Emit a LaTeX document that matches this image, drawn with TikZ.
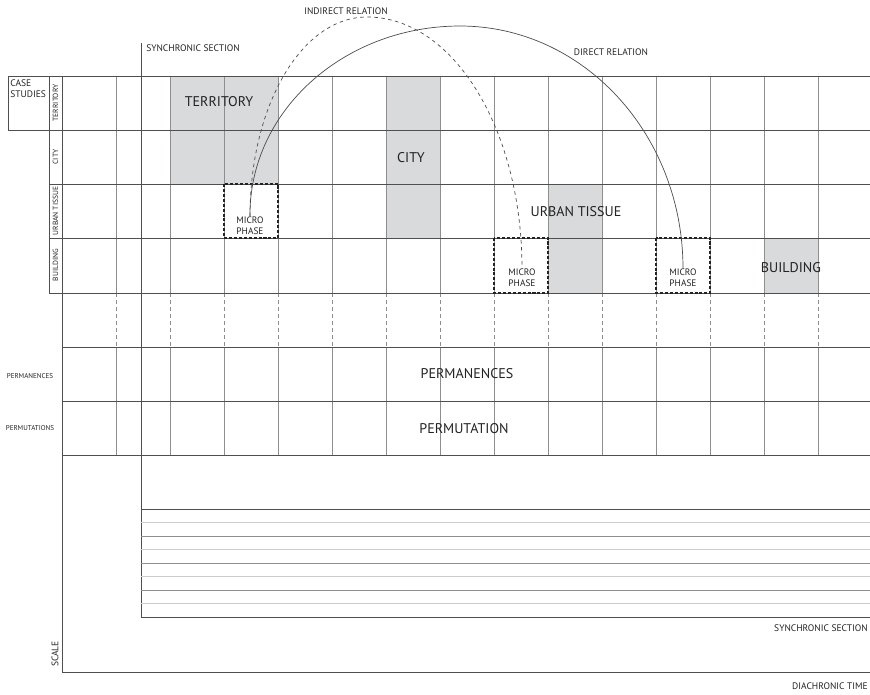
\documentclass[tikz,border=0pt]{standalone}
\usepackage{fontspec}
\setmainfont{PT Sans}
\usetikzlibrary{calc}
\definecolor{cellgray}{HTML}{D9DADB}
\definecolor{colline}{HTML}{8E8E8E}
\definecolor{rowline}{HTML}{4F4F4F}
\definecolor{inkgray}{HTML}{232323}

\begin{document}
\begin{tikzpicture}[x=0.03cm, y=-0.03cm, line width=0.6pt,
    bigtxt/.style={font=\fontsize{12}{13}\selectfont, text=inkgray},
    smalltxt/.style={font=\fontsize{8.1}{9.4}\selectfont, text=inkgray},
    tinytxt/.style={font=\fontsize{6}{7}\selectfont, text=inkgray},
    sidetxt/.style={font=\fontsize{6.4}{7}\selectfont, text=inkgray, rotate=90},
    microtxt/.style={font=\fontsize{8}{9.6}\selectfont, text=inkgray, align=center, inner sep=0pt},
    microbox/.style={draw=inkgray, line width=1.2pt, dash pattern=on 2.6pt off 1.6pt},
    relline/.style={draw=black!70, line width=0.6pt}]
    \useasboundingbox (0,0) rectangle (870,694);

    % shaded scales
    \fill[cellgray] (170,76) rectangle (278,184);
    \fill[cellgray] (386,76) rectangle (440,238);
    \fill[cellgray] (548,184) rectangle (602,293);
    \fill[cellgray] (764,238) rectangle (818,293);

    % columns
    \foreach \x in {116,170,...,818} {
        \draw[colline] (\x,76) -- (\x,293);
        \draw[colline, dash pattern=on 3pt off 3pt] (\x,293) -- (\x,347);
        \draw[colline] (\x,347) -- (\x,455);
    }
    % rows
    \foreach \y in {76,130,184,238,293,347,401,455}
        \draw[rowline] (62,\y) -- (870,\y);

    % case studies header and scale column
    \draw[rowline] (8,76) rectangle (49,130);
    \draw[rowline] (49,76) rectangle (62,293);
    \foreach \y in {130,184,238}
        \draw[rowline] (49,\y) -- (62,\y);
    \draw[rowline] (62,76) -- (62,672) -- (870,672);
    \draw[rowline, line width=0.8pt] (141,43) -- (141,617);

    % synchronic section strips
    \draw[rowline, line width=0.8pt] (141,509) -- (870,509);
    \foreach \y in {536,563,590}
        \draw[colline] (141,\y) -- (870,\y);
    \foreach \y in {522.5,549.5,576.5,603.5}
        \draw[black!20, line width=0.9pt] (141,\y) -- (870,\y);
    \draw[rowline, line width=0.8pt] (141,617) -- (870,617);

    % micro phases
    \draw[microbox] (224,184) rectangle (278,238);
    \draw[microbox] (494,238) rectangle (548,293);
    \draw[microbox] (656,238) rectangle (710,293);
    \node[microtxt] (micro1) at (250,225.5) {MICRO\\PHASE};
    \node[microtxt] (micro2) at (522,278) {MICRO\\PHASE};
    \node[microtxt] (micro3) at (683,278) {MICRO\\PHASE};

    % relations
    \draw[relline] (micro1.north) .. controls (249,111) and (344,26) .. (460,26)
        .. controls (583,26) and (683,134) .. (micro3.north);
    \draw[relline, dashed] (micro1.north) .. controls (250,105) and (302,17) .. (367,17)
        .. controls (453,17) and (522,129) .. (micro2.north);

    % labels
    \node[bigtxt] (territory) at (219,102) {TERRITORY};
    \node[bigtxt] (city) at (411,158) {CITY};
    \node[bigtxt] (tissue) at (576,212) {URBAN TISSUE};
    \node[bigtxt] (building) at (791,268) {BUILDING};
    \node[bigtxt] (permanences) at (467,374) {PERMANENCES};
    \node[bigtxt] (permutation) at (464,429) {PERMUTATION};

    \node[smalltxt, anchor=west] (synctop) at (142,48) {SYNCHRONIC SECTION};
    \node[smalltxt] (indirect) at (346,11) {INDIRECT RELATION};
    \node[smalltxt] (direct) at (611,52) {DIRECT RELATION};
    \node[smalltxt, anchor=east] (syncbot) at (872,628) {SYNCHRONIC SECTION};
    \node[smalltxt, anchor=east] (diachronic) at (872,686) {DIACHRONIC TIME};
    \node[smalltxt, align=left, anchor=north west, inner sep=0pt] (cases) at (10,79) {CASE\\STUDIES};

    \node[sidetxt] at (55.5,103) {TERRITORY};
    \node[sidetxt] at (55.5,157) {CITY};
    \node[sidetxt] at (55.5,211) {URBAN TISSUE};
    \node[sidetxt] at (55.5,265) {BUILDING};
    \node[smalltxt, rotate=90] (scale) at (55,654) {SCALE};
    \node[tinytxt] (permleft) at (30,376) {PERMANENCES};
    \node[tinytxt] (permuleft) at (30,428) {PERMUTATIONS};
\end{tikzpicture}
\end{document}
